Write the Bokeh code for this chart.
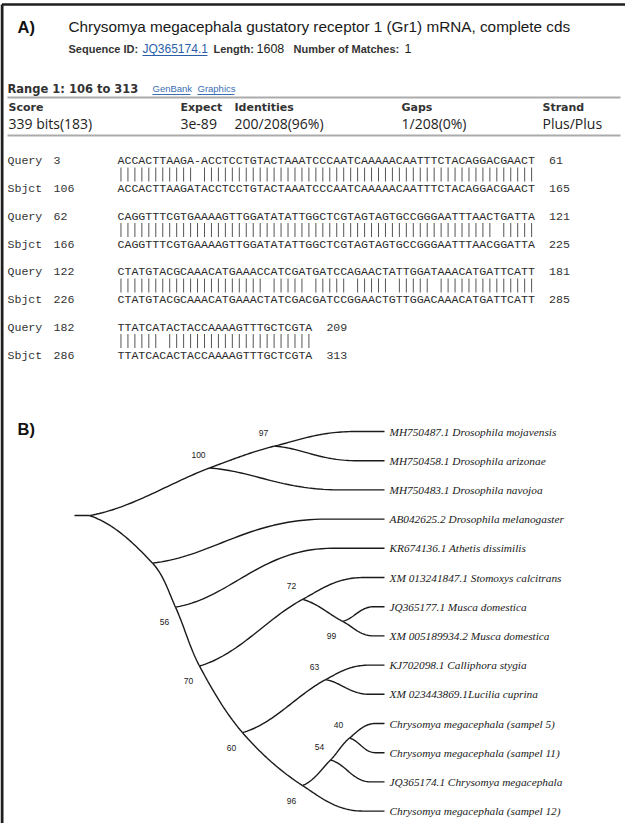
import numpy as np
from bokeh.plotting import figure
from bokeh.models import Range1d
from bokeh.core.properties import value
from bokeh.embed import file_html
from bokeh.resources import INLINE

# ---------------- Panel A : BLAST hit ----------------
hit_title = "Chrysomya megacephala gustatory receptor 1 (Gr1) mRNA, complete cds"
seq_id = "JQ365174.1"
seq_length = "1608"
n_matches = "1"
hit_range = "Range 1: 106 to 313"
link_labels = ["GenBank", "Graphics"]
score_headers = ["Score", "Expect", "Identities", "Gaps", "Strand"]
score_values = ["339 bits(183)", "3e-89", "200/208(96%)", "1/208(0%)", "Plus/Plus"]

query_start = [3, 62, 122, 182]
query_end = [61, 121, 181, 209]
sbjct_start = [106, 166, 226, 286]
sbjct_end = [165, 225, 285, 313]
query_seq = [
    "ACCACTTAAGA-ACCTCCTGTACTAAATCCCAATCAAAAACAATTTCTACAGGACGAACT",
    "CAGGTTTCGTGAAAAGTTGGATATATTGGCTCGTAGTAGTGCCGGGAATTTAACTGATTA",
    "CTATGTACGCAAACATGAAACCATCGATGATCCAGAACTATTGGATAAACATGATTCATT",
    "TTATCATACTACCAAAAGTTTGCTCGTA",
]
sbjct_seq = [
    "ACCACTTAAGATACCTCCTGTACTAAATCCCAATCAAAAACAATTTCTACAGGACGAACT",
    "CAGGTTTCGTGAAAAGTTGGATATATTGGCTCGTAGTAGTGCCGGGAATTTAACGGATTA",
    "CTATGTACGCAAACATGAAACTATCGACGATCCGGAACTGTTGGACAAACATGATTCATT",
    "TTATCACACTACCAAAAGTTTGCTCGTA",
]

# ---------------- Panel B : tree ----------------
leaf_names = [
    "MH750487.1 Drosophila mojavensis",
    "MH750458.1 Drosophila arizonae",
    "MH750483.1 Drosophila navojoa",
    "AB042625.2 Drosophila melanogaster",
    "KR674136.1 Athetis dissimilis",
    "XM 013241847.1 Stomoxys calcitrans",
    "JQ365177.1 Musca domestica",
    "XM 005189934.2 Musca domestica",
    "KJ702098.1 Calliphora stygia",
    "XM 023443869.1Lucilia cuprina",
    "Chrysomya megacephala (sampel 5)",
    "Chrysomya megacephala (sampel 11)",
    "JQ365174.1 Chrysomya megacephala",
    "Chrysomya megacephala (sampel 12)",
]
leaf_parent = ["n97", "n97", "n100", "nmel", "n56", "n72", "n99", "n99",
               "n63", "n63", "n40", "n40", "n54", "n96"]
node_names = ["root", "n100", "n97", "nmel", "n56", "n70", "n72", "n99",
              "n60", "n63", "n96", "n54", "n40"]
node_parent = [None, "root", "n100", "root", "nmel", "n56", "n70", "n72",
               "n70", "n60", "n60", "n96", "n54"]
node_depth = [0, 120, 185, 63, 86, 110, 213, 253, 153, 236, 213, 241, 260]
node_support = [None, 100, 97, None, 56, 70, 72, 99, 60, 63, 96, 54, 40]
support_side = [None, "above", "above", None, "below", "below", "above",
                "below", "below", "above", "below", "above", "above"]
leaf_depth = 295

# ---------------- layout constants ----------------
W, H = 625, 823
ROOT_PX = 97        # page x of the tree root
ROW0_PX = 439       # page y of first leaf
ROW = 29.2          # px per leaf row

p = figure(width=W, height=H, x_range=Range1d(8, 8 + W), y_range=Range1d(8 + H, 8),
           output_backend="svg", toolbar_location=None, min_border=0,
           x_axis_location=None, y_axis_location=None)
p.grid.visible = False
p.outline_line_color = None
p.background_fill_color = "white"
p.border_fill_color = "white"
p.extra_x_ranges = {"tx": Range1d(8 - ROOT_PX, 8 + W - ROOT_PX)}
p.extra_y_ranges = {"ty": Range1d((8 + H - ROW0_PX) / ROW, (8 - ROW0_PX) / ROW)}


def txt(x, y, s, size, font="Liberation Sans", style="normal", color="#222222",
        align="left", xr="default", yr="default"):
    p.text(x=[x], y=[y], text=[s], text_font=value(font), text_font_size=f"{size}px",
           text_font_style=style, text_color=color, text_align=align,
           text_baseline="middle", x_range_name=xr, y_range_name=yr)


# frame
p.segment(x0=[9.5], y0=[12], x1=[8 + W], y1=[12], line_color="#1e1e1e", line_width=2.5)
p.segment(x0=[9.5], y0=[12], x1=[9.5], y1=[8 + H], line_color="#1e1e1e", line_width=3)

# ---- Panel A header ----
txt(25, 34, "A)", 16.5, style="bold", color="#111111")
txt(76, 34, hit_title, 15.3, color="#1a1a1a")
txt(76, 56, "Sequence ID:", 11, style="bold", color="#333333")
txt(150, 56, seq_id, 12, color="#2b5fa8")
p.segment(x0=[150], y0=[63], x1=[215], y1=[63], line_color="#2b5fa8", line_width=1)
txt(221, 56, "Length:", 11, style="bold", color="#333333")
txt(264, 56, seq_length, 12.5, color="#222222")
txt(301, 56, "Number of Matches:", 11, style="bold", color="#333333")
txt(412, 56, n_matches, 12.5, color="#222222")

txt(15, 96, hit_range, 11.5, font="DejaVu Sans", style="bold", color="#333333")
link_x = [160, 205]
link_w = [38, 37]
for lx, lw, lab in zip(link_x, link_w, link_labels):
    txt(lx, 96, lab, 9.5, color="#3a6db3")
    p.segment(x0=[lx], y0=[102], x1=[lx + lw], y1=[102], line_color="#3a6db3", line_width=1)

p.segment(x0=[15, 15], y0=[105, 143], x1=[628, 628], y1=[105, 143], line_color="#ababab", line_width=2)
col_x = [16, 188, 242, 409, 550]
for cx, hd, vl in zip(col_x, score_headers, score_values):
    txt(cx, 115, hd, 11, font="DejaVu Sans", style="bold", color="#333333")
    txt(cx, 131, vl, 14, font="Open Sans", color="#222222")

# ---- alignment ----
MONO = "Liberation Mono"
FS = 11.6
CW = 0.6 * FS
SEQ_X = 125
Q_Y0, PERIOD, GAP = 168, 55.5, 28
bx, by0, by1 = [], [], []
for r in range(len(query_seq)):
    qy = Q_Y0 + r * PERIOD
    sy = qy + GAP
    q, s = query_seq[r], sbjct_seq[r]
    txt(15, qy, "Query", FS, font=MONO, color="#333333")
    txt(15, sy, "Sbjct", FS, font=MONO, color="#333333")
    txt(61, qy, str(query_start[r]), FS, font=MONO, color="#333333")
    txt(61, sy, str(sbjct_start[r]), FS, font=MONO, color="#333333")
    txt(SEQ_X, qy, q, FS, font=MONO, color="#2a2a2a")
    txt(SEQ_X, sy, s, FS, font=MONO, color="#2a2a2a")
    endx = SEQ_X + len(q) * CW + 14
    txt(endx, qy, str(query_end[r]), FS, font=MONO, color="#333333")
    txt(endx, sy, str(sbjct_end[r]), FS, font=MONO, color="#333333")
    for i, (a, b) in enumerate(zip(q, s)):
        if a == b:
            bx.append(SEQ_X + (i + 0.5) * CW)
            by0.append(qy + 7)
            by1.append(sy - 7)
p.segment(x0=bx, y0=by0, x1=bx, y1=by1, line_color="#555555", line_width=1)

# ---- Panel B : tree ----
txt(25, 436, "B)", 16.5, style="bold", color="#111111")

children = {n: [] for n in node_names}
parent = {}
depth = {}
for i, par in enumerate(leaf_parent):
    children[par].append(f"L{i}")
    parent[f"L{i}"] = par
    depth[f"L{i}"] = leaf_depth
for n, par, d in zip(node_names, node_parent, node_depth):
    depth[n] = d
    if par is not None:
        children[par].append(n)
        parent[n] = par


def row(n):
    if n.startswith("L"):
        return float(n[1:])
    return float(np.mean([row(c) for c in children[n]]))


def P(n):  # shape space: x in tree units, y in px-equivalent
    return np.array([depth[n], row(n) * ROW])


def unit(v):
    return v / np.linalg.norm(v)


def target(par, c):
    if c.startswith("L"):
        L = 0.75 * (depth[c] - depth[par])
        return np.array([depth[par] + L, row(c) * ROW])
    return P(c)


def ang(v):
    return np.arctan2(v[1], v[0])


cont, T = {}, {}
for n in node_names:
    if n == "root":
        continue
    inc = ang(P(n) - P(parent[n]))
    best = min(children[n], key=lambda c: abs(ang(target(n, c) - P(n)) - inc))
    cont[n] = best
    T[n] = unit(target(n, best) - P(parent[n]))


def bez(p0, p1, p2, p3, k=40):
    t = np.linspace(0, 1, k)[:, None]
    return (1 - t) ** 3 * p0 + 3 * (1 - t) ** 2 * t * p1 + 3 * (1 - t) * t ** 2 * p2 + t ** 3 * p3


xs, ys = [], []
for n in node_names:
    for c in children[n]:
        p0 = P(n)
        end = target(n, c)
        chord = end - p0
        if n != "root" and cont[n] == c:
            s = T[n]
        else:
            s = unit(np.array([1.0, 0.45 * chord[1] / chord[0]]))
        h = np.linalg.norm(chord) / 3
        p1 = p0 + s * h
        if c.startswith("L"):
            L = end[0] - p0[0]
            p2 = np.array([p0[0] + 0.55 * L, end[1]])
            pts = bez(p0, p1, p2, end)
            pts = np.vstack([pts, P(c)])
        else:
            p2 = end - T[c] * h
            pts = bez(p0, p1, p2, end)
        xs.append(pts[:, 0])
        ys.append(pts[:, 1] / ROW)
# root stub
xs.append(np.array([-15.0, 0.0]))
ys.append(np.array([row("root"), row("root")]))
p.multi_line(xs=xs, ys=ys, line_color="#1a1a1a", line_width=1.4,
             x_range_name="tx", y_range_name="ty")

p.text(x=[leaf_depth + 5] * len(leaf_names), y=list(range(len(leaf_names))), text=leaf_names,
       text_font=value("Liberation Serif"), text_font_size="11.3px", text_font_style="italic",
       text_color="#1a1a1a", text_align="left", text_baseline="middle",
       x_range_name="tx", y_range_name="ty")

sx, sy, st = [], [], []
for n, sup, side in zip(node_names, node_support, support_side):
    if sup is None:
        continue
    dy = -13 if side == "above" else 15
    sx.append(depth[n] - 11)
    sy.append(row(n) + dy / ROW)
    st.append(str(sup))
p.text(x=sx, y=sy, text=st, text_font=value("Liberation Sans"), text_font_size="8.5px",
       text_color="#222222", text_align="center", text_baseline="middle",
       x_range_name="tx", y_range_name="ty")

open("out.html", "w").write(file_html(p, INLINE))
